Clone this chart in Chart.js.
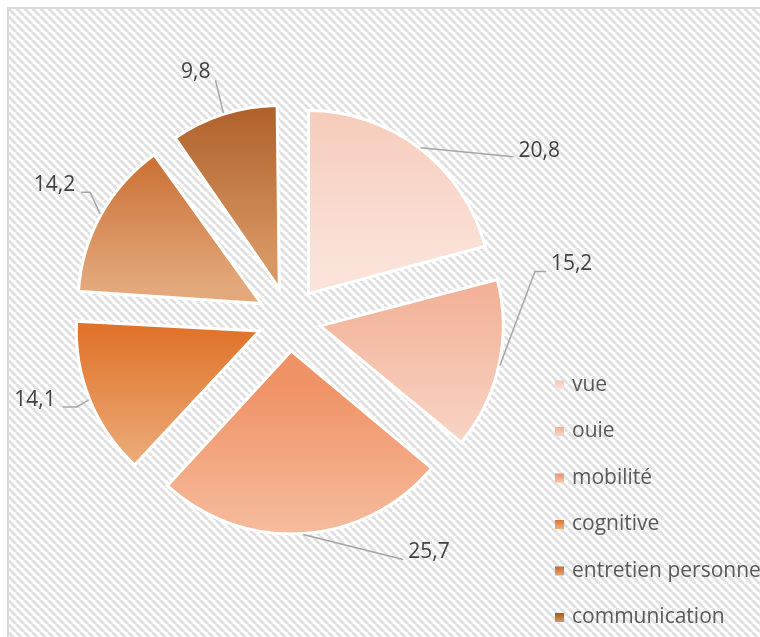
<!DOCTYPE html>
<html>
<head>
<meta charset="utf-8">
<script src="https://cdn.jsdelivr.net/npm/chart.js@4.4.1/dist/chart.umd.min.js"></script>
<style>
  html, body { margin: 0; padding: 0; background: #fff; }
  #myChart { display: block; }
</style>
</head>
<body>
<canvas id="myChart" width="760" height="637"></canvas>
<script>
// data
const categories = ['vue', 'ouie', 'mobilité', 'cognitive', 'entretien personnel', 'communication'];
const values = [20.8, 15.2, 25.7, 14.1, 14.2, 9.8];
const valueLabels = values.map(v => String(v).replace('.', ','));

// gradient colours, top -> bottom of each slice
const topColors = ['#f5c8b6', '#f2b197', '#ef9265', '#e0742c', '#c7682b', '#a8551e'];
const bottomColors = ['#fbe3da', '#f9d5c7', '#f7c5a9', '#edb282', '#e3a97c', '#d69763'];

const EXPLODE = 32;   // px each slice is pulled out
const RADIUS = 183;

// where each data label sits, relative to where its leader leaves the slice
const leaders = [
  { pts: [[0, 0], [93, 9]], text: [5, -6], align: 'left' },
  { pts: [[0, 0], [35, -94], [46, -94]], text: [5, -8], align: 'left' },
  { pts: [[0, 0], [100, 25]], text: [5, -8], align: 'left' },
  { pts: [[0, 0], [-12, 7], [-26, 7]], text: [-7, -7], align: 'right' },
  { pts: [[0, 0], [-10, -22], [-19, -22]], text: [-6, -7], align: 'right' },
  { pts: [[0, 0], [-8, -33]], text: [-5, -8], align: 'right' }
];

const FONT = '21px "Open Sans", "Noto Sans", sans-serif';

// hatched background + frame
const backgroundPlugin = {
  id: 'hatch',
  beforeDraw(chart) {
    const ctx = chart.ctx;
    const tile = document.createElement('canvas');
    tile.width = 8; tile.height = 8;
    const t = tile.getContext('2d');
    t.fillStyle = '#ffffff';
    t.fillRect(0, 0, 8, 8);
    t.strokeStyle = '#e0e0e0';
    t.lineWidth = 3;
    for (let k = -8; k <= 8; k += 8) {
      t.beginPath();
      t.moveTo(k, 0);
      t.lineTo(k + 8, 8);
      t.stroke();
    }
    ctx.save();
    ctx.fillStyle = '#ffffff';
    ctx.fillRect(0, 0, chart.width, chart.height);
    ctx.fillStyle = ctx.createPattern(tile, 'repeat');
    ctx.fillRect(9, 9, chart.width, chart.height);
    ctx.fillStyle = '#d9d9d9';
    ctx.fillRect(7, 7, chart.width, 2);
    ctx.fillRect(7, 7, 2, chart.height);
    ctx.restore();
  }
};

function arcGeometry(el) {
  const mid = (el.startAngle + el.endAngle) / 2;
  const ax = el.x + Math.cos(mid) * EXPLODE;
  const ay = el.y + Math.sin(mid) * EXPLODE;
  return { mid, ax, ay };
}

// per-slice vertical gradient, and keep every slice the same radius
const slicePlugin = {
  id: 'slices',
  beforeDatasetsDraw(chart) {
    const ctx = chart.ctx;
    const meta = chart.getDatasetMeta(0);
    const baseR = meta.controller.outerRadius;
    meta.data.forEach((el, i) => {
      const circ = el.endAngle - el.startAngle;
      const fix = 1 - Math.sin(Math.min(Math.PI, circ));
      el.outerRadius = baseR - EXPLODE * fix;
      const g = arcGeometry(el);
      let minY = g.ay, maxY = g.ay;
      for (let s = 0; s <= 40; s++) {
        const a = el.startAngle + circ * s / 40;
        const y = g.ay + Math.sin(a) * baseR;
        minY = Math.min(minY, y);
        maxY = Math.max(maxY, y);
      }
      const grad = ctx.createLinearGradient(0, minY, 0, maxY);
      grad.addColorStop(0, topColors[i]);
      grad.addColorStop(1, bottomColors[i]);
      el.options = Object.assign({}, el.options, { backgroundColor: grad });
    });
  }
};

// data labels with leader lines, and the legend
const labelPlugin = {
  id: 'labels',
  afterDatasetsDraw(chart) {
    const ctx = chart.ctx;
    const meta = chart.getDatasetMeta(0);
    const baseR = meta.controller.outerRadius;
    ctx.save();
    ctx.font = FONT;
    ctx.textBaseline = 'middle';
    meta.data.forEach((el, i) => {
      const g = arcGeometry(el);
      const sx = g.ax + Math.cos(g.mid) * (baseR + 1);
      const sy = g.ay + Math.sin(g.mid) * (baseR + 1);
      const L = leaders[i];
      ctx.strokeStyle = '#a6a6a6';
      ctx.lineWidth = 1.5;
      ctx.beginPath();
      L.pts.forEach((p, k) => {
        if (k === 0) ctx.moveTo(sx + p[0], sy + p[1]);
        else ctx.lineTo(sx + p[0], sy + p[1]);
      });
      ctx.stroke();
      const end = L.pts[L.pts.length - 1];
      ctx.fillStyle = '#404040';
      ctx.textAlign = L.align;
      ctx.fillText(valueLabels[i], sx + end[0] + L.text[0], sy + end[1] + L.text[1]);
    });

    // legend
    ctx.textAlign = 'left';
    categories.forEach((name, i) => {
      const y = 385 + i * 46.5;
      const grad = ctx.createLinearGradient(0, y - 4.5, 0, y + 4.5);
      grad.addColorStop(0, topColors[i]);
      grad.addColorStop(1, bottomColors[i]);
      ctx.fillStyle = grad;
      ctx.fillRect(555, y - 4.5, 9, 9);
      ctx.fillStyle = '#595959';
      ctx.fillText(name, 572, y);
    });
    ctx.restore();
  }
};

const ctx = document.getElementById('myChart').getContext('2d');
const chart = new Chart(ctx, {
  type: 'pie',
  data: {
    labels: categories,
    datasets: [{
      data: values,
      backgroundColor: topColors,
      borderColor: '#ffffff',
      borderWidth: 3,
      borderJoinStyle: 'miter',
      offset: EXPLODE * 4   // chart.js moves arcs by offset/4
    }]
  },
  options: {
    responsive: false,
    animation: false,
    devicePixelRatio: 1,
    events: [],
    radius: RADIUS,
    layout: { padding: { left: 0, right: 182, top: 1, bottom: 0 } },
    plugins: {
      legend: { display: false },
      tooltip: { enabled: false }
    }
  },
  plugins: [backgroundPlugin, slicePlugin, labelPlugin]
});
</script>
</body>
</html>
